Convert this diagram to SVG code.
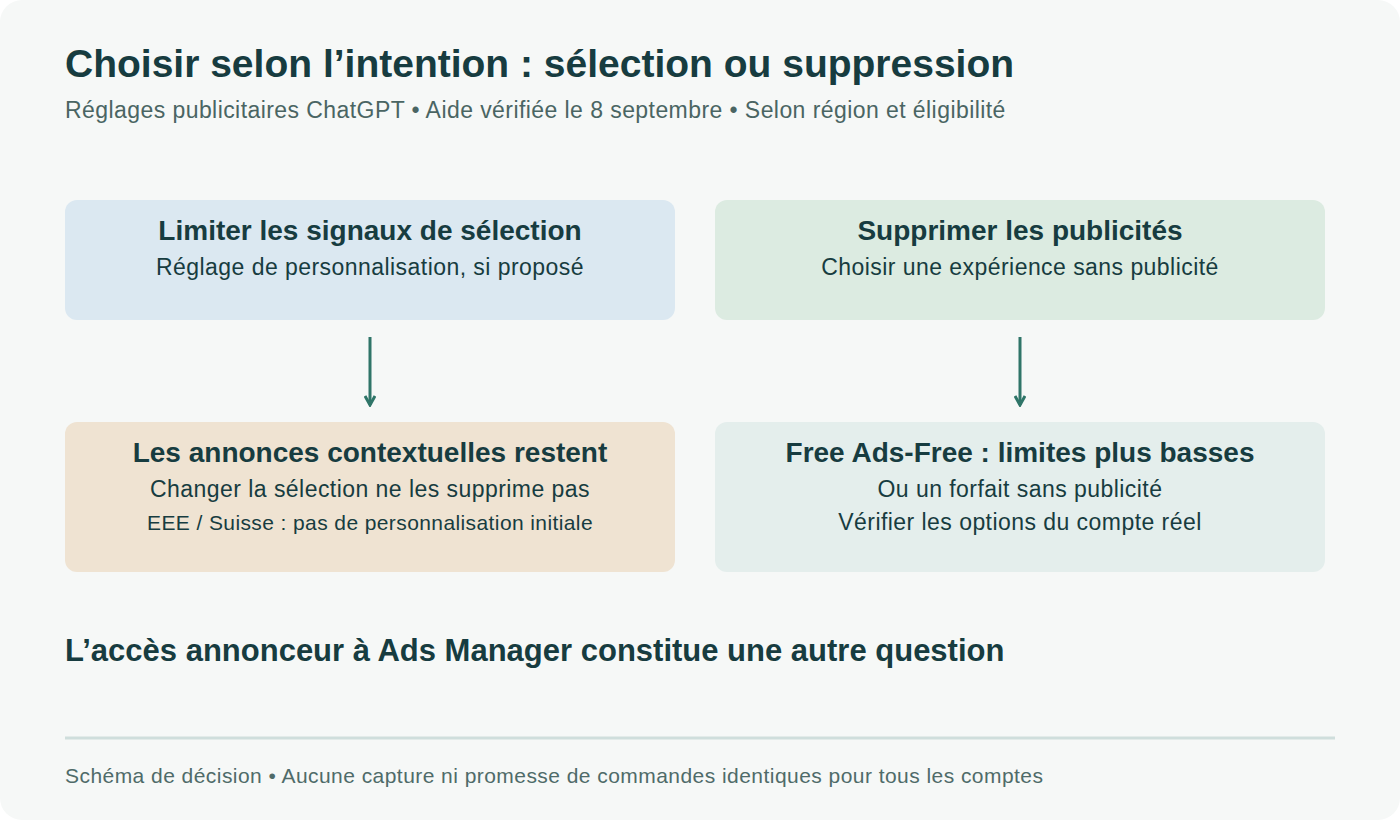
<svg xmlns="http://www.w3.org/2000/svg" width="1400" height="820" viewBox="0 0 1400 820">
<style>
text{font-family:"Liberation Sans",Arial,sans-serif;fill:#173c40}
.h{font-weight:bold;font-size:28px;text-anchor:middle}
.s{font-size:23px;letter-spacing:0.45px;text-anchor:middle}
.s2{font-size:21px;letter-spacing:0.4px;text-anchor:middle}
.conn{stroke:#2f7568;stroke-width:3;fill:none}
</style>
<defs>
<marker id="ah" viewBox="0 0 12 12" refX="10" refY="6" markerWidth="12" markerHeight="12" markerUnits="userSpaceOnUse" orient="auto">
<path d="M1,1 L10,6 L1,11" fill="none" stroke="#2f7568" stroke-width="3"/>
</marker>
</defs>
<rect x="0" y="0" width="1400" height="820" fill="#ffffff"/>
<rect x="0" y="0" width="1400" height="820" rx="22" fill="#f6f8f7"/>
<text x="65" y="77" style="font-weight:bold;font-size:39px">Choisir selon l’intention : sélection ou suppression</text>
<text x="65" y="118" style="font-size:23px;letter-spacing:0.43px;fill:#4a6563">Réglages publicitaires ChatGPT • Aide vérifiée le 8 septembre • Selon région et éligibilité</text>
<g id="n1">
<rect x="65" y="200" width="610" height="120" rx="12" fill="#dbe8f1"/>
<text class="h" x="370" y="240">Limiter les signaux de sélection</text>
<text class="s" x="370" y="275">Réglage de personnalisation, si proposé</text>
</g>
<g id="n2">
<rect x="715" y="200" width="610" height="120" rx="12" fill="#dcebe1"/>
<text class="h" x="1020" y="240">Supprimer les publicités</text>
<text class="s" x="1020" y="275">Choisir une expérience sans publicité</text>
</g>
<g id="n3">
<rect x="65" y="422" width="610" height="150" rx="12" fill="#efe3d2"/>
<text class="h" x="370" y="462">Les annonces contextuelles restent</text>
<text class="s" x="370" y="497">Changer la sélection ne les supprime pas</text>
<text class="s2" x="370" y="530">EEE / Suisse : pas de personnalisation initiale</text>
</g>
<g id="n4">
<rect x="715" y="422" width="610" height="150" rx="12" fill="#e4eeec"/>
<text class="h" x="1020" y="462">Free Ads-Free : limites plus basses</text>
<text class="s" x="1020" y="497">Ou un forfait sans publicité</text>
<text class="s" x="1020" y="530">Vérifier les options du compte réel</text>
</g>
<g id="connectors">
<line class="conn" x1="370" y1="337" x2="370" y2="405" marker-end="url(#ah)"/>
<line class="conn" x1="1020" y1="337" x2="1020" y2="405" marker-end="url(#ah)"/>
</g>
<text x="65" y="661" style="font-weight:bold;font-size:31px">L’accès annonceur à Ads Manager constitue une autre question</text>
<line x1="65" y1="738" x2="1335" y2="738" stroke="#cfdedc" stroke-width="3"/>
<text x="65" y="783" style="font-size:21px;letter-spacing:0.45px;fill:#4f6b69">Schéma de décision • Aucune capture ni promesse de commandes identiques pour tous les comptes</text>
</svg>
